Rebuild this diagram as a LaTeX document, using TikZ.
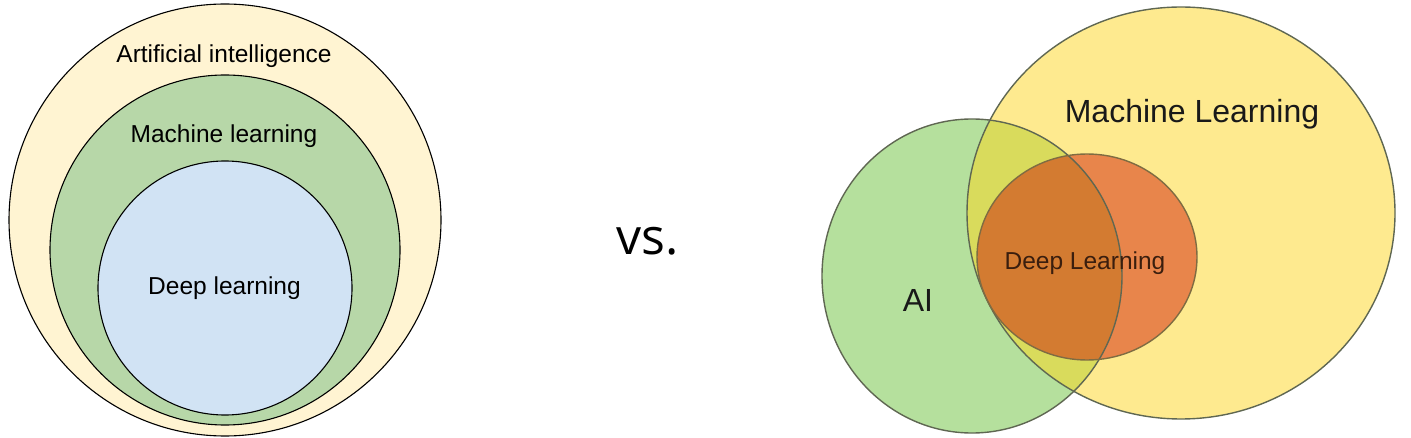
\documentclass[tikz,border=0pt]{standalone}
\usepackage{fontspec}
\setmainfont{Liberation Sans}
\newfontfamily\vsfont{Open Sans}
\usetikzlibrary{positioning}
\definecolor{aicream}{HTML}{FFF4D2}
\definecolor{mlgreen}{HTML}{B7D7A8}
\definecolor{dlblue}{HTML}{D1E3F4}
\definecolor{vnyellow}{HTML}{FEEA8F}
\definecolor{vngreen}{HTML}{B5E09D}
\definecolor{vnmix}{HTML}{D9DB5C}
\definecolor{vnorange}{HTML}{E8854B}
\definecolor{vndark}{HTML}{D37B31}
\definecolor{vnedge}{HTML}{5F6752}
\definecolor{vntext}{HTML}{3A1E0E}

\begin{document}
\begin{tikzpicture}[x=1pt,y=-1pt,ring/.style={draw=black,line width=1.1pt},blob/.style={draw=vnedge,line width=1.4pt},
						lbl/.style={anchor=base,inner sep=0pt,font=\fontsize{24.5}{29}\selectfont},biglbl/.style={anchor=base,inner sep=0pt,text=black!90,font=\fontsize{32}{38}\selectfont}
						]
						\useasboundingbox (0,0) rectangle (1411,438);
						\filldraw[ring,fill=aicream] (225,220) circle (216pt);
						\filldraw[ring,fill=mlgreen] (225,250) circle (175pt);
						\filldraw[ring,fill=dlblue] (225,288) circle (127pt);
						\node[lbl] (ai) at (224,63) {Artificial intelligence};
						\node[lbl] (ml) at (224,143) {Machine learning};
						\node[lbl] (dl) at (224.5,295) {Deep learning};
						\node[anchor=base,inner sep=0pt,font=\vsfont\fontsize{50}{60}\selectfont] (vs) at (648,255) {vs.};
						\fill[vnyellow] (1181,213) ellipse [x radius=214pt, y radius=206pt];
						\fill[vngreen] (972,276) ellipse [x radius=150pt, y radius=157pt];
						\begin{scope}
							\clip (1181,213) ellipse [x radius=214pt, y radius=206pt];
							\fill[vnmix] (972,276) ellipse [x radius=150pt, y radius=157pt];
						\end{scope}
						\fill[vnorange] (1087,257) ellipse [x radius=110pt, y radius=103pt];
						\begin{scope}
							\clip (972,276) ellipse [x radius=150pt, y radius=157pt];
							\fill[vndark] (1087,257) ellipse [x radius=110pt, y radius=103pt];
						\end{scope}
						\draw[blob] (1181,213) ellipse [x radius=214pt, y radius=206pt];
						\draw[blob] (972,276) ellipse [x radius=150pt, y radius=157pt];
						\draw[blob,draw=vnedge!80!orange] (1087,257) ellipse [x radius=110pt, y radius=103pt];
						\node[biglbl] (mach) at (1192,123) {Machine Learning};
						\node[biglbl] (aiv) at (918,312) {AI};
						\node[lbl,text=vntext] (deep) at (1085,270) {Deep Learning};
						\end{tikzpicture}
\end{document}
